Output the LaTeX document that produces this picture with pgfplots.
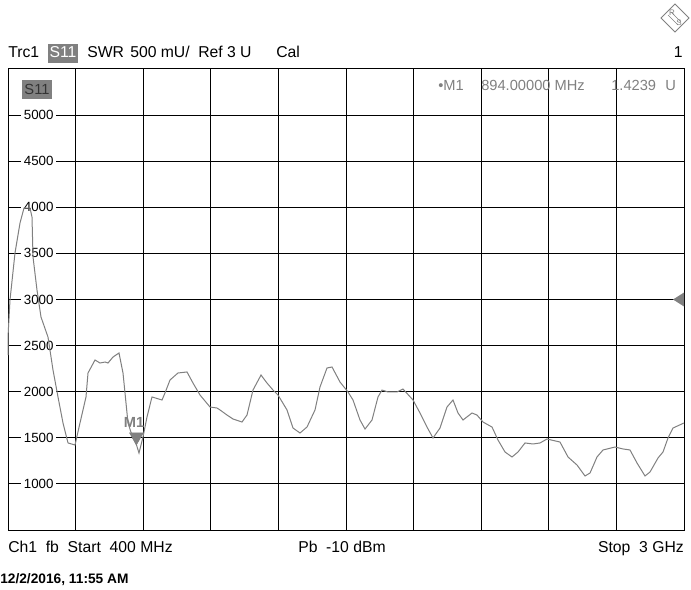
\documentclass[border=0pt]{standalone}
\usepackage{fontspec}
\setmainfont{Liberation Sans}
\usepackage{pgfplots}
\pgfplotsset{compat=1.18}
\definecolor{trace}{HTML}{808080}
\definecolor{mk}{HTML}{808080}
\definecolor{boxg}{HTML}{808080}
\newcommand\hdr{\fontsize{11.8}{13}\selectfont}
\newcommand\infofont{\fontsize{11}{13}\selectfont}
\begin{document}
\begin{tikzpicture}
\begin{axis}[
  scale only axis, width=507pt, height=345.75pt,
  at={(0,0)}, anchor=south west,
  xmin=400, xmax=3000, ymin=500, ymax=5500,
  xtick={660,920,1180,1440,1700,1960,2220,2480,2740}, xticklabels={},
  ytick={1000,1500,2000,2500,3000,3500,4000,4500,5000},
  yticklabels={1000,1500,2000,2500,3000,3500,4000,4500,5000},
  grid=major, major grid style={black, line width=0.75pt},
  axis line style={black, line width=0.75pt},
  major tick length=0pt,
  set layers,
  yticklabel style={anchor=center, xshift=23pt, fill=white, inner xsep=2pt, inner ysep=0.5pt, font=\fontsize{10}{10}\selectfont},
  clip=false,
]
\addplot[trace, line width=0.75pt] coordinates {
(400,2398)(401,2650)(407.7,2995)(426.9,3504)(446.2,3830)(461.5,3992)(484.6,3992)(492.3,3895)
(496.2,3461)(511.5,3103)(526.9,2810)(553.8,2593)(573.1,2235)(592.3,1943)(611.5,1661)(630.8,1444)
(657.7,1422)(676.9,1661)(700,1943)(707.7,2203)(734.6,2344)(753.8,2311)(773.1,2322)(784.6,2311)
(803.8,2376)(826.9,2420)(842.3,2203)(850,1986)(861.5,1661)(880,1500)(894,1424)(903.8,1335)
(919.2,1509)(934.6,1726)(953.8,1943)(992.3,1910)(1003.8,1986)(1023.1,2127)(1053.8,2203)(1088.5,2214)
(1111.5,2094)(1138.5,1964)(1176.9,1834)(1203.8,1823)(1215.4,1802)(1242.3,1747)(1265.4,1704)(1300,1671)
(1319.2,1747)(1342.3,2018)(1373.1,2181)(1396.2,2094)(1419.2,2018)(1438.5,1964)(1473.1,1802)(1496.2,1606)
(1523.1,1552)(1550,1617)(1580.8,1802)(1600,2051)(1626.9,2257)(1646.2,2268)(1676.9,2105)(1707.7,1997)
(1726.9,1910)(1753.8,1693)(1773.1,1595)(1800,1693)(1823.1,1943)(1838.5,2018)(1861.5,1997)(1896.2,1997)
(1919.2,2029)(1957.7,1910)(1984.6,1769)(2011.5,1617)(2034.6,1498)(2061.5,1606)(2088.5,1834)(2111.5,1910)
(2130.8,1769)(2150,1693)(2184.6,1769)(2203.8,1747)(2226.9,1671)(2261.5,1617)(2284.6,1476)(2311.5,1346)
(2338.5,1292)(2361.5,1346)(2388.5,1444)(2419.2,1433)(2446.2,1444)(2473.1,1487)(2523.1,1454)(2553.8,1292)
(2588.5,1205)(2619.2,1086)(2638.5,1118)(2665.4,1292)(2688.5,1368)(2734.6,1400)(2765.4,1379)(2792.3,1368)
(2819.2,1227)(2850,1086)(2869.2,1129)(2900,1281)(2919.2,1346)(2938.5,1498)(2957.7,1606)(3000,1661)
};
\addplot[mk, only marks, mark=triangle*, mark size=6pt, mark options={yshift=6pt, rotate=180, fill=mk, draw=mk}] coordinates {(894,1424)};
\node[mk, font=\bfseries\fontsize{11}{11}\selectfont, inner sep=0pt] at (axis cs:894,1424) [xshift=-1.8pt, yshift=17pt] {M1};
\fill[mk] (axis cs:3000,3000) ++(-8.25pt,0pt) -- ++(8.25pt,5.25pt) -- ++(0pt,-10.5pt) -- cycle;
\end{axis}
\begin{scope}[x=0.75pt, y=-0.75pt, shift={(-6pt,397.5pt)}]
\path[use as bounding box] (0,0) rectangle (691,589);
% header
\node[anchor=base west, inner sep=0pt, font=\hdr] at (8,58) {Trc1};
\fill[boxg] (48,44) rectangle (78,63);
\node[anchor=base, inner sep=0pt, font=\hdr, white] at (63,58) {S11};
\node[anchor=base west, inner sep=0pt, font=\hdr] at (87,58) {SWR};
\node[anchor=base west, inner sep=0pt, font=\hdr] at (130,58) {500 mU/};
\node[anchor=base west, inner sep=0pt, font=\hdr] at (198,58) {Ref 3 U};
\node[anchor=base west, inner sep=0pt, font=\hdr] at (276,58) {Cal};
\node[anchor=base east, inner sep=0pt, font=\hdr] at (683,58) {1};
% S11 box in plot
\fill[boxg] (22,80) rectangle (52,99);
\node[anchor=base, inner sep=0pt, font=\infofont, black!80] at (37,94.5) {S11};
% marker info
\node[anchor=base west, inner sep=0pt, font=\infofont, mk] at (438,91) {•M1};
\node[anchor=base west, inner sep=0pt, font=\infofont, mk] at (481,91) {894.00000 MHz};
\node[anchor=base west, inner sep=0pt, font=\infofont, mk] at (611,91) {1.4239};
\node[anchor=base west, inner sep=0pt, font=\infofont, mk] at (665,91) {U};
% bottom
\node[anchor=base west, inner sep=0pt, font=\hdr] at (8,552) {Ch1 \ fb \ Start \ 400 MHz};
\node[anchor=base west, inner sep=0pt, font=\hdr] at (298,552) {Pb \ -10 dBm};
\node[anchor=base east, inner sep=0pt, font=\hdr] at (684,552) {Stop \ 3 GHz};
\node[anchor=base west, inner sep=0pt, font=\bfseries\fontsize{10.3}{10}\selectfont] at (0,583) {12/2/2016, 11:55 AM};
% logo
\draw[mk, line width=0.75pt] (675,4) -- (689,18) -- (675,32) -- (661,18) -- cycle;
\draw[mk, line width=0.5pt] (668,15) -- (678,25) (671,12) -- (681,22);
\node[mk, inner sep=0pt, font=\fontsize{6}{6}\selectfont] at (672,13) {R};
\node[mk, inner sep=0pt, font=\fontsize{6}{6}\selectfont] at (679,23) {S};
\end{scope}
\end{tikzpicture}
\end{document}
